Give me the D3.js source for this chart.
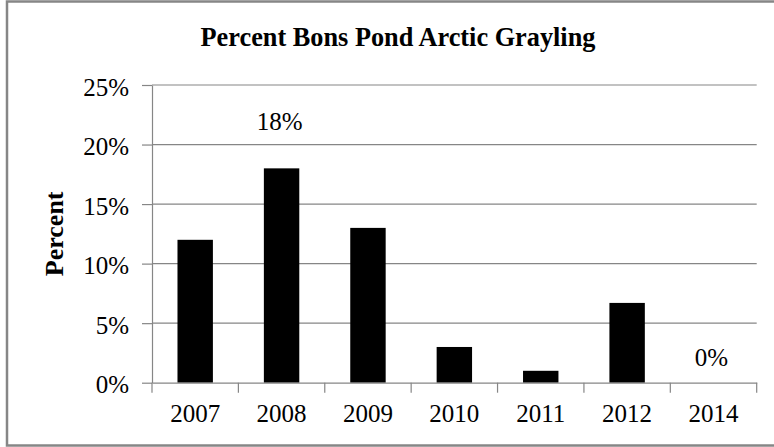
<!DOCTYPE html>
<html>
<head>
<meta charset="utf-8">
<script src="https://cdn.jsdelivr.net/npm/d3@7"></script>
<style>
  html, body { margin: 0; padding: 0; background: #fff; }
  svg { display: block; font-family: "Liberation Serif", "Times New Roman", serif; }
</style>
</head>
<body>
<svg id="chart" width="774" height="447"></svg>
<script>
// ---- data ----
const categories = ["2007", "2008", "2009", "2010", "2011", "2012", "2014"];
const values = [12, 18, 13, 3, 1, 6.7, 0];
const dataLabels = [null, "18%", null, null, null, null, "0%"];
const yTicks = [0, 5, 10, 15, 20, 25];
const title = "Percent Bons Pond Arctic Grayling";
const yTitle = "Percent";

// ---- styles ----
const labelLift = [0, 38, 0, 0, 0, 0, 17];
const gray = "#868686";

const svg = d3.select("#chart");
const W = 774, H = 447;
const plot = { left: 152, top: 85, right: 756.7, bottom: 382.7 };

// outer border (right edge extends beyond the frame, as in the reference)
svg.append("rect")
  .attr("x", 7).attr("y", 1.5)
  .attr("width", W + 10).attr("height", 444)
  .attr("fill", "#fff").attr("stroke", gray).attr("stroke-width", 2.5);

const x = d3.scaleBand().domain(categories).range([plot.left, plot.right]).padding(0);
const y = d3.scaleLinear().domain([0, 25]).range([plot.bottom, plot.top]);
const barFrac = 0.41;

// gridlines
svg.append("g").selectAll("line").data(yTicks.filter(d => d > 0)).join("line")
  .attr("x1", plot.left).attr("x2", plot.right)
  .attr("y1", d => y(d)).attr("y2", d => y(d))
  .attr("stroke", gray).attr("stroke-width", 1.2);

// bars
svg.append("g").selectAll("rect").data(values).join("rect")
  .attr("x", (d, i) => x(categories[i]) + x.bandwidth() * (1 - barFrac) / 2)
  .attr("width", x.bandwidth() * barFrac)
  .attr("y", d => y(d))
  .attr("height", d => y(0) - y(d))
  .attr("fill", "#000");

// y axis
const yAxis = svg.append("g")
  .attr("transform", `translate(${plot.left},0)`)
  .call(d3.axisLeft(y).tickValues(yTicks).tickFormat(d => d + "%").tickSize(10).tickPadding(13).tickSizeOuter(0));
yAxis.select(".domain").attr("stroke", gray).attr("stroke-width", 1.2);
yAxis.selectAll(".tick line").attr("stroke", gray).attr("stroke-width", 1.2);
yAxis.selectAll(".tick text").attr("font-size", 25).attr("fill", "#000")
  .attr("font-family", "Liberation Serif").attr("dy", "0.4em");

// x axis
const xAxis = svg.append("g")
  .attr("transform", `translate(0,${plot.bottom})`)
  .call(d3.axisBottom(x).tickSize(0).tickPadding(22).tickSizeOuter(0));
xAxis.select(".domain").attr("stroke", gray).attr("stroke-width", 1.2);
xAxis.selectAll(".tick text").attr("font-size", 25).attr("fill", "#000")
  .attr("font-family", "Liberation Serif").attr("dy", "0.71em");
// category boundary ticks
const bounds = categories.map(c => x(c)).concat([x(categories[categories.length - 1]) + x.bandwidth()]);
xAxis.append("g").selectAll("line").data(bounds).join("line")
  .attr("x1", d => d).attr("x2", d => d)
  .attr("y1", 0).attr("y2", 10)
  .attr("stroke", gray).attr("stroke-width", 1.2);

// data labels
const labelData = categories
  .map((c, i) => ({ cat: c, value: values[i], label: dataLabels[i], lift: labelLift[i] }))
  .filter(d => d.label !== null);
svg.append("g").selectAll("text").data(labelData).join("text")
  .attr("x", d => x(d.cat) + x.bandwidth() / 2 - 2)
  .attr("y", d => y(d.value) - d.lift)
  .attr("text-anchor", "middle")
  .attr("font-size", 25)
  .attr("fill", "#000")
  .text(d => d.label);

// title
svg.append("text")
  .attr("x", 398).attr("y", 46)
  .attr("text-anchor", "middle")
  .attr("font-size", 26.3).attr("font-weight", "bold")
  .text(title);

// y axis title
svg.append("text")
  .attr("transform", `translate(63,${(plot.top + plot.bottom) / 2}) rotate(-90)`)
  .attr("text-anchor", "middle")
  .attr("font-size", 26).attr("font-weight", "bold")
  .text(yTitle);
</script>
</body>
</html>
